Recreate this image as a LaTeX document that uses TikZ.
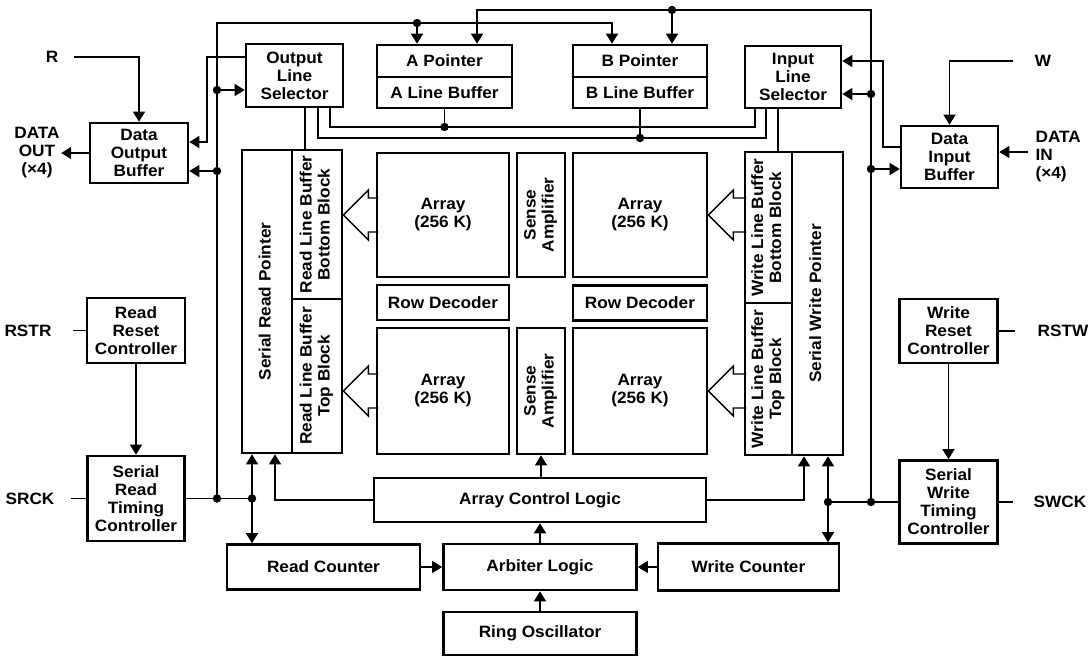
\documentclass[tikz,border=0pt]{standalone}
\usepackage{fontspec}
\setmainfont{Liberation Sans}[FakeStretch=1.05]
\usepackage{graphicx}
\usetikzlibrary{arrows.meta}
\newcommand{\vtxt}[1]{\rotatebox{90}{\begin{tabular}{@{}c@{}}#1\end{tabular}}}
\tikzset{
  blk/.style={draw, line width=2.6pt, align=center, inner sep=2pt},
  lbl/.style={inner sep=1pt},
  arr/.style={-{Triangle[length=10pt,width=12pt]}},
  hollow/.pic={\draw[line width=1.4pt] (#1,-17) -- (25,-17) -- (25,-25) -- (0,0) -- (25,25) -- (25,17) -- (#1,17);}
}
\begin{document}
\begin{tikzpicture}[x=1pt,y=1pt,yscale=-1,line width=1.2pt,
  every node/.style={font=\fontsize{16.4}{18}\selectfont\bfseries}]
\fill[white] (0,0) rectangle (1091,659);
\useasboundingbox (0,0) rectangle (1091,659);

% top row
\node[blk, minimum width=97, minimum height=63] (ols) at (294.5,75.5) {Output\\Line\\Selector};
\node[blk, minimum width=98, minimum height=60] (dob) at (139,153) {Data\\Output\\Buffer};
\node[blk, minimum width=135, minimum height=32] (apt) at (444.5,61) {A Pointer};
\node[blk, minimum width=135, minimum height=31] (alb) at (444.5,92.5) {A Line Buffer};
\node[blk, minimum width=134, minimum height=32] (bpt) at (640,61) {B Pointer};
\node[blk, minimum width=134, minimum height=31] (blb) at (640,92.5) {B Line Buffer};
\node[blk, minimum width=96, minimum height=62] (ils) at (793,77) {Input\\Line\\Selector};
\node[blk, minimum width=97, minimum height=62] (dib) at (949.5,157) {Data\\Input\\Buffer};

% arrays
\node[blk, minimum width=132, minimum height=124] (atl) at (443,215) {Array\\(256 K)};
\node[blk, minimum width=48, minimum height=124] (sat) at (541,215) {\vtxt{Sense\\Amplifier}};
\node[blk, minimum width=134, minimum height=124] (atr) at (640,215) {Array\\(256 K)};
\node[blk, minimum width=132, minimum height=35] (rdl) at (443,302.5) {Row Decoder};
\node[blk, minimum width=134, minimum height=35] (rdr) at (640,303) {Row Decoder};
\node[blk, minimum width=132, minimum height=126] (abl) at (443,391) {Array\\(256 K)};
\node[blk, minimum width=48, minimum height=126] (sab) at (541,391) {\vtxt{Sense\\Amplifier}};
\node[blk, minimum width=134, minimum height=126] (abr) at (640,391) {Array\\(256 K)};

% read / write pointers
\node[blk, minimum width=50, minimum height=303] (srp) at (267,301.5) {\vtxt{Serial Read Pointer}};
\node[blk, minimum width=50, minimum height=149] (rlbb) at (317,224.5) {\vtxt{Read Line Buffer\\Bottom Block}};
\node[blk, minimum width=50, minimum height=154] (rlbt) at (317,376) {\vtxt{Read Line Buffer\\Top Block}};
\node[blk, minimum width=47, minimum height=151] (wlbb) at (768.5,227.5) {\vtxt{Write Line Buffer\\Bottom Block}};
\node[blk, minimum width=47, minimum height=152] (wlbt) at (768.5,379) {\vtxt{Write Line Buffer\\Top Block}};
\node[blk, minimum width=51, minimum height=303] (swp) at (817.5,303.5) {\vtxt{Serial Write Pointer}};

% bottom
\node[blk, minimum width=332, minimum height=44] (acl) at (540,500) {Array Control Logic};
\node[blk, minimum width=193, minimum height=46] (arb) at (540,567) {Arbiter Logic};
\node[blk, minimum width=193, minimum height=43] (ring) at (540,633.5) {Ring Oscillator};
\node[blk, minimum width=193, minimum height=45] (rcnt) at (323.5,567) {Read Counter};
\node[blk, minimum width=181, minimum height=47] (wcnt) at (748.5,567) {Write Counter};

% controllers
\node[blk, minimum width=98, minimum height=65] (rrc) at (136,330.5) {Read\\Reset\\Controller};
\node[blk, minimum width=97, minimum height=85] (srtc) at (136,498.5) {Serial\\Read\\Timing\\Controller};
\node[blk, minimum width=98, minimum height=64] (wrc) at (948.5,331) {Write\\Reset\\Controller};
\node[blk, minimum width=98, minimum height=83] (swtc) at (948.5,502) {Serial\\Write\\Timing\\Controller};

% pins
\node[lbl] (rlab) at (52,57) {R};
\node[lbl, align=center] (dout) at (37,153) {DATA\\OUT\\(×4)};
\node[lbl] (rstr) at (28,330.5) {RSTR};
\node[lbl] (srck) at (30,498.5) {SRCK};
\node[lbl] (wlab) at (1043,61) {W};
\node[lbl, align=left, anchor=west] (din) at (1034,157) {DATA\\IN\\(×4)};
\node[lbl] (rstw) at (1063,331) {RSTW};
\node[lbl] (swck) at (1060,502) {SWCK};

% junctions
\coordinate (jl1) at (217,90);
\coordinate (jl2) at (217,171);
\coordinate (jsr) at (217,498.5);
\coordinate (jrc) at (252,498.5);
\coordinate (ja) at (417,23);
\coordinate (jb) at (672,10);
\coordinate (jr1) at (871,94);
\coordinate (jr2) at (871,169);
\coordinate (jwt) at (871,502);
\coordinate (jwc) at (828,502);

% read side
\draw[arr, shorten <=14] (rlab.east) -| (dob.north);
\draw[arr] (dob.west) -- (dout.east |- dob.west);
\draw[arr] (ols.west |- 0,57) -- (207,57) |- (dob.east |- 0,142);
\draw[arr] (jsr) |- (612,23) -- (bpt.north -| 612,0);
\draw[arr] (ja) -- (ja |- apt.north);
\draw[arr] (jl1) -- (jl1 -| ols.west);
\draw[arr] (jl2) -- (jl2 -| dob.east);
\draw (srtc.east) -- (jrc);
\draw[arr] (jrc) -- (jrc |- srp.south);
\draw[arr] (jrc) -- (jrc |- rcnt.north);
\draw[arr] (acl.west) -| (rlbt.south -| 275,0);
\draw[arr] (rrc.south) -- (srtc.north);
\draw[shorten <=20] (rstr.east) -- (rrc.west);
\draw[shorten <=15] (srck.east) -- (srtc.west);

% write side
\draw[arr] (jwt) |- (477,10) -- (apt.north -| 477,0);
\draw[arr] (jb) -- (jb |- bpt.north);
\draw[arr] (jr1) -- (jr1 -| ils.east);
\draw[arr] (jr2) -- (jr2 -| dib.west);
\draw[arr] (dib.west |- 0,147) -- (883,147) |- (ils.east |- 0,61);
\draw[arr, shorten <=20] (wlab.west) -| (dib.north);
\draw[arr, shorten <=6] (din.west |- 0,152) -- (dib.east |- 0,152);
\draw (swtc.west) -- (jwc);
\draw[arr] (jwc) -- (jwc |- swp.south);
\draw[arr] (jwc) -- (jwc |- wcnt.north);
\draw[arr] (acl.east) -| (swp.south -| 804,0);
\draw[arr] (wrc.south) -- (swtc.north);
\draw[shorten <=21] (rstw.west) -- (wrc.east);
\draw[shorten <=19] (swck.west) -- (swtc.east);

% line buses
\draw (ols.south -| 330,0) -- (330,127) -| (ils.south -| 755,0);
\draw (ols.south -| 318,0) -- (318,138) -| (ils.south -| 766,0);
\draw (alb.south) -- (alb.south |- 0,127);
\draw (blb.south) -- (blb.south |- 0,138);
\draw (ols.south -| 305,0) -- (rlbb.north -| 305,0);
\draw (ils.south -| 778,0) -- (wlbb.north -| 778,0);

% core
\draw[arr] (sab.south |- acl.north) -- (sab.south);
\draw[arr] (arb.north) -- (acl.south);
\draw[arr] (ring.north) -- (arb.south);
\draw[arr] (rcnt.east) -- (arb.west);
\draw[arr] (wcnt.west) -- (arb.east);

% wide arrows
\pic at (rlbb.east |- atl.west) {hollow=35};
\pic at (rlbt.east |- abl.west) {hollow=35};
\pic at (atr.east) {hollow=38};
\pic at (abr.east) {hollow=38};

% dots
\foreach \j in {jl1,jl2,jsr,jrc,ja,jb,jr1,jr2,jwt,jwc}
  \fill (\j) circle (4.2);
\fill (alb.south |- 0,127) circle (4.2);
\fill (blb.south |- 0,138) circle (4.2);

\end{tikzpicture}
\end{document}
